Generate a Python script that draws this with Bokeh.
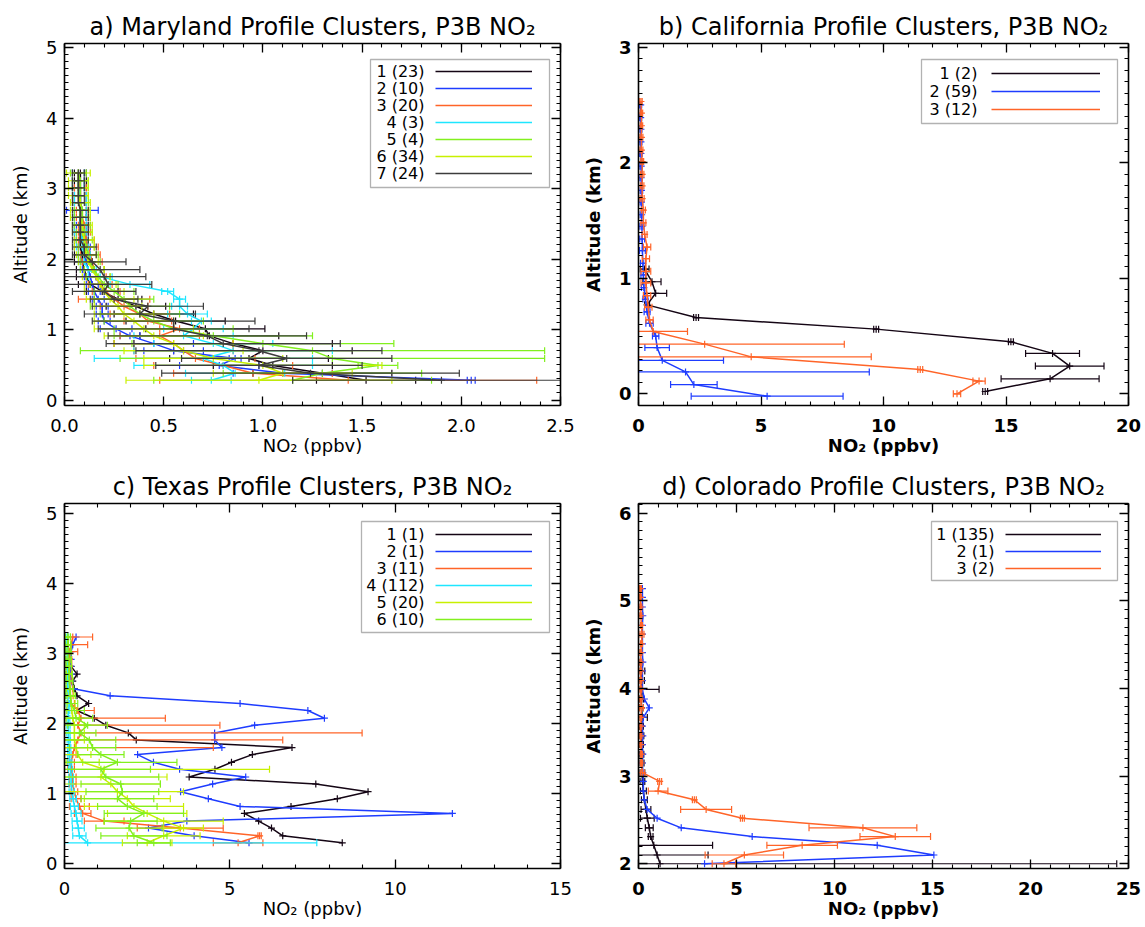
import numpy as np
from bokeh.plotting import figure
from bokeh.models import (Range1d, LinearAxis, SingleIntervalTicker, Legend, LegendItem,
                          Label, BoxAnnotation, ColumnDataSource, PrintfTickFormatter)
from bokeh.layouts import gridplot
from bokeh.embed import file_html
from bokeh.resources import INLINE

FONT = "DejaVu Sans"

C_BLACK = "#140514"
C_BLUE = "#1e3cff"
C_ORANGE = "#ff6428"
C_CYAN = "#1ee6ff"
C_GREEN = "#82f01e"
C_YGREEN = "#c8f000"
C_GRAY = "#3c3c3c"

# ---------------- a) Maryland ----------------
ALT_A = [0.28, 0.38, 0.49, 0.59, 0.70, 0.80, 0.91, 1.01, 1.12, 1.22, 1.33, 1.43, 1.54, 1.64, 1.75,
         1.85, 1.96, 2.06, 2.17, 2.27, 2.38, 2.48, 2.59, 2.69, 2.80, 2.90, 3.01, 3.11, 3.22]
A1_MEAN = [1.52, 1.30, 1.05, 0.93, 1.00, 0.85, 0.73, 0.71, 0.56, 0.45, 0.36, 0.27, 0.19, 0.13, 0.11,
           0.10, 0.09, 0.09, 0.08, 0.08, 0.08, 0.08, 0.08, 0.08, 0.08, 0.08, 0.08, 0.08, 0.08]
A1_SD = [0.25, 0.35, 0.30, 0.40, 0.45, 0.50, 0.35, 0.30, 0.25, 0.20, 0.15, 0.12, 0.08, 0.06, 0.05,
         0.04, 0.04, 0.04, 0.03, 0.03, 0.03, 0.03, 0.03, 0.03, 0.03, 0.03, 0.03, 0.03, 0.03]
A2_MEAN = [2.05, 1.10, 0.78, 0.86, 0.55, 0.45, 0.33, 0.26, 0.20, 0.19, 0.19, 0.17, 0.15, 0.14, 0.13,
           0.12, 0.11, 0.10, 0.10, 0.09, 0.09, 0.09, 0.08, 0.09, 0.08, 0.08, 0.07, 0.07, 0.07]
A2_SD = [0.02, 0.25, 0.20, 0.03, 0.15, 0.20, 0.05, 0.08, 0.03, 0.03, 0.03, 0.03, 0.03, 0.03, 0.03,
         0.03, 0.03, 0.03, 0.03, 0.03, 0.03, 0.03, 0.03, 0.08, 0.03, 0.03, 0.03, 0.03, 0.03]
A3_MEAN = [1.43, 0.95, 0.80, 0.66, 0.60, 0.55, 0.48, 0.58, 0.42, 0.38, 0.30, 0.25, 0.21, 0.18, 0.16,
           0.15, 0.14, 0.13, 0.12, 0.11, 0.10, 0.10, 0.09, 0.09, 0.08, 0.08, 0.08, 0.07, 0.07]
A3_SD = [0.95, 0.40, 0.35, 0.30, 0.25, 0.30, 0.20, 0.10, 0.12, 0.15, 0.12, 0.18, 0.07, 0.06, 0.05,
         0.05, 0.05, 0.05, 0.05, 0.04, 0.03, 0.03, 0.03, 0.03, 0.03, 0.03, 0.03, 0.03, 0.03]
A4_MEAN = [0.74, 0.86, 0.80, 0.70, 0.85, 0.75, 0.60, 0.65, 0.69, 0.62, 0.58, 0.58, 0.52, 0.33, 0.18,
           0.12, 0.10, 0.10, 0.09, 0.09, 0.08, 0.08, 0.08, 0.08, 0.08, 0.08, 0.07, 0.07, 0.07]
A4_SD = [0.10, 0.25, 0.45, 0.55, 0.50, 0.30, 0.25, 0.15, 0.05, 0.10, 0.04, 0.03, 0.03, 0.10, 0.06,
         0.04, 0.03, 0.03, 0.03, 0.03, 0.03, 0.03, 0.03, 0.03, 0.03, 0.03, 0.03, 0.03, 0.03]
A5_MEAN = [1.15, 1.30, 1.58, 1.35, 1.25, 1.00, 0.75, 0.55, 0.45, 0.38, 0.33, 0.30, 0.25, 0.20, 0.17,
           0.15, 0.13, 0.12, 0.11, 0.10, 0.10, 0.09, 0.09, 0.09, 0.08, 0.08, 0.08, 0.08, 0.07]
A5_SD = [0.70, 0.50, 0.10, 1.07, 1.17, 0.66, 0.50, 0.30, 0.25, 0.20, 0.20, 0.15, 0.10, 0.07, 0.06,
         0.05, 0.05, 0.05, 0.04, 0.04, 0.04, 0.04, 0.04, 0.04, 0.04, 0.04, 0.04, 0.04, 0.04]
A6_MEAN = [0.98, 1.10, 1.00, 0.75, 0.60, 0.55, 0.45, 0.40, 0.35, 0.30, 0.27, 0.23, 0.20, 0.18, 0.16,
           0.14, 0.12, 0.11, 0.10, 0.10, 0.09, 0.09, 0.08, 0.08, 0.08, 0.07, 0.07, 0.07, 0.07]
A6_SD = [0.67, 0.35, 0.60, 0.35, 0.30, 0.30, 0.25, 0.25, 0.20, 0.15, 0.12, 0.12, 0.10, 0.08, 0.07,
         0.06, 0.05, 0.05, 0.05, 0.05, 0.05, 0.05, 0.05, 0.05, 0.05, 0.05, 0.05, 0.05, 0.06]
A7_MEAN = [1.90, 1.24, 0.98, 1.12, 0.98, 0.80, 0.72, 0.55, 0.55, 0.38, 0.42, 0.25, 0.20, 0.22, 0.20,
           0.18, 0.14, 0.10, 0.10, 0.08, 0.08, 0.08, 0.08, 0.08, 0.07, 0.07, 0.07, 0.07, 0.07]
A7_SD = [0.75, 0.75, 0.52, 0.53, 0.62, 0.59, 0.50, 0.38, 0.41, 0.28, 0.28, 0.12, 0.16, 0.22, 0.21,
         0.20, 0.17, 0.06, 0.06, 0.04, 0.04, 0.04, 0.04, 0.04, 0.03, 0.03, 0.03, 0.03, 0.03]
LEG_A = ["1 (23)", "2 (10)", "3 (20)", "4 (3)", "5 (4)", "6 (34)", "7 (24)"]

# ---------------- b) California ----------------
B1_ALT = [0.02, 0.13, 0.24, 0.35, 0.45, 0.56, 0.66, 0.77, 0.87, 0.97, 1.08]
B1_MEAN = [14.15, 16.80, 17.60, 16.90, 15.20, 9.70, 2.35, 0.35, 0.70, 0.55, 0.25]
B1_SD = [0.10, 2.00, 1.40, 1.10, 0.10, 0.10, 0.10, 0.10, 0.45, 0.37, 0.18]
B2_ALT = [-0.02, 0.08, 0.19, 0.29, 0.40, 0.50, 0.61, 0.71, 0.82, 0.92, 1.03, 1.13, 1.24, 1.34, 1.45,
          1.55, 1.66, 1.76, 1.87, 1.97, 2.08, 2.18, 2.29, 2.39, 2.50]
B2_MEAN = [5.25, 2.26, 1.92, 0.97, 0.76, 0.70, 0.45, 0.35, 0.28, 0.22, 0.20, 0.18, 0.16, 0.15, 0.14,
           0.13, 0.12, 0.12, 0.11, 0.11, 0.10, 0.10, 0.10, 0.09, 0.09]
B2_SD = [3.10, 0.95, 7.50, 2.50, 0.50, 0.13, 0.15, 0.12, 0.10, 0.10, 0.10, 0.10, 0.12, 0.10, 0.08,
         0.06, 0.05, 0.05, 0.05, 0.05, 0.05, 0.04, 0.04, 0.04, 0.04]
B3_ALT = [0.00, 0.11, 0.21, 0.32, 0.43, 0.54, 0.64, 0.75, 0.85, 0.96, 1.06, 1.17, 1.27, 1.38, 1.48,
          1.59, 1.69, 1.80, 1.90, 2.01, 2.11, 2.22, 2.32, 2.43, 2.53]
B3_MEAN = [13.00, 13.90, 11.50, 4.60, 2.70, 0.60, 0.45, 0.40, 0.35, 0.30, 0.30, 0.30, 0.35, 0.25, 0.20,
           0.20, 0.15, 0.15, 0.15, 0.15, 0.12, 0.12, 0.12, 0.12, 0.10]
B3_SD = [0.15, 0.25, 0.10, 4.90, 5.70, 1.40, 0.15, 0.15, 0.15, 0.20, 0.20, 0.15, 0.15, 0.10, 0.10,
         0.08, 0.08, 0.07, 0.07, 0.06, 0.06, 0.06, 0.05, 0.05, 0.05]
LEG_B = ["1 (2)", "2 (59)", "3 (12)"]

# ---------------- c) Texas ----------------
ALT_C = [0.30, 0.40, 0.51, 0.61, 0.72, 0.82, 0.93, 1.03, 1.14, 1.24, 1.35, 1.45, 1.56, 1.66, 1.77,
         1.87, 1.98, 2.08, 2.19, 2.29, 2.40, 2.50, 2.61, 2.71, 2.82, 2.92, 3.03, 3.13, 3.24]
C1_MEAN = [8.40, 6.60, 6.26, 5.87, 5.44, 6.85, 8.25, 9.18, 7.60, 3.77, 4.55, 5.05, 5.68, 6.88, 2.17,
           1.93, 1.25, 0.90, 0.37, 0.73, 0.38, 0.30, 0.25, 0.38, 0.20, 0.15, 0.12, 0.10, 0.10]
C2_MEAN = [5.58, 3.92, 2.54, 3.70, 11.73, 5.31, 4.35, 3.51, 4.48, 5.48, 3.48, 2.69, 2.21, 4.76, 4.54,
           4.54, 5.75, 7.86, 7.36, 5.31, 1.38, 0.27, 0.20, 0.20, 0.18, 0.20, 0.20, 0.25, 0.35]
C3_MEAN = [5.25, 5.90, 3.50, 1.20, 0.55, 0.45, 0.35, 0.30, 0.25, 0.25, 0.20, 0.20, 0.25, 0.30, 0.40,
           0.50, 0.40, 0.50, 0.40, 0.20, 0.18, 0.16, 0.15, 0.15, 0.15, 0.15, 0.15, 0.20, 0.25]
C3_SD = [0.75, 0.05, 1.30, 0.60, 0.25, 0.30, 0.15, 0.10, 0.10, 0.10, 0.10, 0.10, 0.10, 4.20, 6.20,
         8.50, 4.30, 2.55, 0.50, 0.10, 0.08, 0.08, 0.07, 0.07, 0.07, 0.07, 0.25, 0.50, 0.60]
C4_MEAN = [0.70, 0.45, 0.42, 0.38, 0.35, 0.30, 0.26, 0.22, 0.20, 0.20, 0.18, 0.16, 0.15, 0.14, 0.13,
           0.12, 0.12, 0.11, 0.11, 0.10, 0.10, 0.10, 0.09, 0.09, 0.09, 0.08, 0.08, 0.08, 0.08]
C4_SD = [6.93, 0.20, 0.18, 0.15, 0.15, 0.12, 0.10, 0.08, 0.07, 0.07, 0.06, 0.06, 0.05, 0.05, 0.05,
         0.05, 0.05, 0.05, 0.05, 0.05, 0.04, 0.04, 0.04, 0.04, 0.04, 0.04, 0.04, 0.04, 0.04]
C5_MEAN = [2.50, 3.00, 3.60, 3.00, 2.50, 2.10, 1.90, 1.60, 1.40, 1.10, 1.20, 0.55, 0.40, 0.35, 0.30,
           0.30, 0.30, 0.25, 0.22, 0.20, 0.18, 0.16, 0.15, 0.14, 0.13, 0.12, 0.12, 0.11, 0.10]
C5_SD = [0.75, 1.10, 0.60, 1.80, 1.20, 1.50, 1.30, 2.00, 1.50, 2.00, 5.00, 0.50, 0.40, 0.35, 0.30,
         0.30, 0.30, 0.20, 0.15, 0.12, 0.10, 0.10, 0.10, 0.08, 0.08, 0.08, 0.08, 0.08, 0.08]
C6_MEAN = [2.70, 2.10, 1.95, 2.00, 2.40, 1.90, 1.60, 1.75, 1.70, 1.25, 1.10, 1.60, 1.10, 0.85, 0.75,
           0.45, 0.70, 0.35, 0.30, 0.20, 0.18, 0.16, 0.15, 0.14, 0.13, 0.12, 0.12, 0.11, 0.10]
C6_SD = [0.50, 1.00, 1.00, 0.80, 1.20, 0.90, 1.10, 1.10, 1.20, 1.60, 1.50, 1.80, 0.70, 0.70, 0.80,
         0.50, 0.60, 0.50, 0.30, 0.20, 0.15, 0.12, 0.10, 0.10, 0.08, 0.08, 0.08, 0.08, 0.08]
LEG_C = ["1 (1)", "2 (1)", "3 (11)", "4 (112)", "5 (20)", "6 (10)"]

# ---------------- d) Colorado ----------------
D1_ALT = [2.00, 2.10, 2.21, 2.31, 2.41, 2.52, 2.62, 2.73, 2.83, 2.94, 3.04, 3.15, 3.25, 3.36, 3.46,
          3.57, 3.67, 3.78, 3.88, 3.99, 4.09, 4.20, 4.30]
D1_MEAN = [1.10, 0.95, 0.78, 0.62, 0.55, 0.45, 0.38, 0.30, 0.25, 0.20, 0.20, 0.18, 0.17, 0.15, 0.15,
           0.15, 0.20, 0.15, 0.15, 0.20, 0.15, 0.12, 0.10]
D1_SD = [23.30, 2.60, 3.00, 0.12, 0.20, 0.35, 0.25, 0.15, 0.15, 0.12, 0.12, 0.10, 0.10, 0.10, 0.12,
         0.10, 0.25, 0.10, 0.10, 0.85, 0.15, 0.20, 0.10]
ALT_D = [2.00, 2.10, 2.21, 2.31, 2.41, 2.52, 2.62, 2.73, 2.83, 2.94, 3.04, 3.15, 3.25, 3.36, 3.46,
         3.57, 3.67, 3.78, 3.88, 3.99, 4.09, 4.20, 4.30, 4.41, 4.51, 4.62, 4.72, 4.83, 4.93, 5.04, 5.14]
D2_MEAN = [3.37, 15.07, 12.18, 5.80, 2.18, 0.95, 0.44, 0.30, 0.25, 0.25, 0.22, 0.20, 0.22, 0.20, 0.22,
           0.20, 0.25, 0.55, 0.30, 0.20, 0.20, 0.20, 0.22, 0.20, 0.20, 0.20, 0.20, 0.22, 0.20, 0.20, 0.20]
D3_MEAN = [4.36, 5.40, 8.35, 13.10, 11.45, 5.30, 3.45, 2.85, 1.00, 1.08, 0.20, 0.15, 0.15, 0.12, 0.12,
           0.12, 0.12, 0.15, 0.12, 0.12, 0.12, 0.12, 0.12, 0.12, 0.15, 0.18, 0.15, 0.12, 0.12, 0.10, 0.10]
D3_SD = [0.60, 2.00, 1.80, 1.80, 2.75, 0.10, 1.30, 0.10, 0.50, 0.10, 0.10, 0.05, 0.05, 0.05, 0.05,
         0.05, 0.05, 0.10, 0.05, 0.05, 0.05, 0.05, 0.05, 0.05, 0.05, 0.10, 0.05, 0.05, 0.05, 0.05, 0.05]
LEG_D = ["1 (135)", "2 (1)", "3 (2)"]


def style_axis(ax, ticker, show, bold, label=None, standoff=8, lab_standoff=5, fmt=None):
    ax.ticker = ticker
    ax.axis_line_width = 1.6
    ax.axis_line_color = "black"
    ax.major_tick_line_width = 1.3
    ax.minor_tick_line_width = 1.1
    ax.major_tick_line_color = "black"
    ax.minor_tick_line_color = "black"
    ax.major_tick_in = 9
    ax.major_tick_out = 0
    ax.minor_tick_in = 4
    ax.minor_tick_out = 0
    if fmt is not None:
        ax.formatter = fmt
    if show:
        ax.major_label_text_font = FONT
        ax.major_label_text_font_size = "18px"
        ax.major_label_text_font_style = "bold" if bold else "normal"
        ax.major_label_text_color = "black"
        ax.major_label_standoff = standoff
        ax.axis_label = label
        ax.axis_label_text_font = FONT
        ax.axis_label_text_font_size = "18px"
        ax.axis_label_text_font_style = "bold" if bold else "normal"
        ax.axis_label_text_color = "black"
        ax.axis_label_standoff = lab_standoff
    else:
        # tick-only box side: no labels drawn
        ax.major_label_text_color = None
        ax.major_label_text_alpha = 0
        ax.major_label_text_font_size = "1px"
        ax.major_label_standoff = 0


def make_panel(title, xr, yr, xint, frame_w, frame_h, borders, bold, clusters,
               labels, frame_left, frame_bottom, box, rows, line_x, label_right, xfmt=None):
    bl, bt, br, bb = borders
    p = figure(frame_width=frame_w, frame_height=frame_h,
               x_range=Range1d(*xr), y_range=Range1d(*yr),
               min_border_left=bl, min_border_top=bt, min_border_right=br, min_border_bottom=bb,
               output_backend="svg", toolbar_location=None, title=title)
    p.title.text_font = FONT
    p.title.text_font_size = "24px"
    p.title.text_font_style = "normal"
    p.title.text_color = "black"
    p.title.align = "center"
    p.title.standoff = 5
    p.xgrid.visible = False
    p.ygrid.visible = False
    p.outline_line_color = None
    p.background_fill_color = "white"
    p.border_fill_color = "white"

    xt = SingleIntervalTicker(interval=xint, num_minor_ticks=5)
    yt = SingleIntervalTicker(interval=1, num_minor_ticks=10)
    style_axis(p.below[0], xt, True, bold, "NO\u2082 (ppbv)", standoff=13, lab_standoff=0, fmt=xfmt)
    style_axis(p.left[0], yt, True, bold, "Altitude (km)", standoff=7, lab_standoff=12)
    top = LinearAxis()
    right = LinearAxis()
    style_axis(top, xt, False, bold)
    style_axis(right, yt, False, bold)
    p.add_layout(top, "above")
    p.add_layout(right, "right")

    renderers = []
    for alt, mean, sd, color in clusters:
        alt = np.asarray(alt, dtype=float)
        mean = np.asarray(mean, dtype=float)
        data = dict(alt=alt, mean=mean)
        if sd is not None:
            sd = np.asarray(sd, dtype=float)
            data["lo"] = mean - sd
            data["hi"] = mean + sd
        src = ColumnDataSource(data)
        if sd is not None:
            p.segment(x0="lo", y0="alt", x1="hi", y1="alt", source=src,
                      line_color=color, line_width=1.2)
            p.scatter(x="lo", y="alt", source=src, marker="dash", angle=np.pi / 2, size=7,
                      line_color=color, line_width=1.2)
            p.scatter(x="hi", y="alt", source=src, marker="dash", angle=np.pi / 2, size=7,
                      line_color=color, line_width=1.2)
        r = p.line(x="mean", y="alt", source=src, line_color=color, line_width=1.5)
        p.scatter(x="mean", y="alt", source=src, marker="cross", size=7,
                  line_color=color, line_width=1.2)
        renderers.append(r)

    # legend: framed box, labels at left, line samples at right (page pixel geometry)
    b_l, b_r, b_t, b_b = box
    p.add_layout(BoxAnnotation(left=b_l - frame_left, right=b_r - frame_left,
                               top=frame_bottom - b_t, bottom=frame_bottom - b_b,
                               left_units="screen", right_units="screen",
                               top_units="screen", bottom_units="screen",
                               fill_color=None, fill_alpha=0, line_color="black",
                               line_width=1.3, level="overlay"))
    gh = 14
    pitch = rows[1] - rows[0]
    sp = pitch - gh
    n = len(labels)
    top_y = rows[0] - gh / 2
    height = n * gh + (n - 1) * sp
    leg = Legend(items=[LegendItem(label=" ", renderers=[r]) for r in renderers],
                 location=(line_x[0] - frame_left, frame_bottom - (top_y + height)),
                 glyph_width=int(line_x[1] - line_x[0]), glyph_height=gh, label_height=gh,
                 spacing=sp, padding=0, margin=0, border_line_alpha=0,
                 background_fill_alpha=0, label_text_font_size="8px",
                 label_standoff=0, label_width=0)
    p.add_layout(leg)
    for lab, yrow in zip(labels, rows):
        p.add_layout(Label(x=label_right - frame_left, y=frame_bottom - yrow,
                           x_units="screen", y_units="screen", text=lab,
                           text_align="right", text_baseline="middle",
                           text_font=FONT, text_font_size="16px", text_color="black"))
    return p


pa = make_panel("a) Maryland Profile Clusters, P3B NO\u2082", (0, 2.5), (-0.078, 5.057), 0.5,
                496, 362, (64, 43, 15, 55), False,
                [(ALT_A, A1_MEAN, A1_SD, C_BLACK), (ALT_A, A2_MEAN, A2_SD, C_BLUE),
                 (ALT_A, A3_MEAN, A3_SD, C_ORANGE), (ALT_A, A4_MEAN, A4_SD, C_CYAN),
                 (ALT_A, A5_MEAN, A5_SD, C_GREEN), (ALT_A, A6_MEAN, A6_SD, C_YGREEN),
                 (ALT_A, A7_MEAN, A7_SD, C_GRAY)],
                LEG_A, 64, 405, (370, 549, 59, 187), [71, 88, 105, 122, 139, 156, 173],
                (435, 532), 424, xfmt=PrintfTickFormatter(format="%.1f"))

pb = make_panel("b) California Profile Clusters, P3B NO\u2082", (0, 20), (-0.101, 3.032), 5,
                490, 362, (63, 43, 13, 55), True,
                [(B1_ALT, B1_MEAN, B1_SD, C_BLACK), (B2_ALT, B2_MEAN, B2_SD, C_BLUE),
                 (B3_ALT, B3_MEAN, B3_SD, C_ORANGE)],
                LEG_B, 638, 405, (921, 1117, 59, 123), [73, 91, 109],
                (991, 1100), 977)

pc = make_panel("c) Texas Profile Clusters, P3B NO\u2082", (0, 15), (-0.067, 5.147), 5,
                496, 365, (64, 43, 15, 55), False,
                [(ALT_C, C1_MEAN, None, C_BLACK), (ALT_C, C2_MEAN, None, C_BLUE),
                 (ALT_C, C3_MEAN, C3_SD, C_ORANGE), (ALT_C, C4_MEAN, C4_SD, C_CYAN),
                 (ALT_C, C5_MEAN, C5_SD, C_YGREEN), (ALT_C, C6_MEAN, C6_SD, C_GREEN)],
                LEG_C, 64, 868, (361, 549, 521, 632), [534, 551, 568, 585, 602, 619],
                (435, 532), 424)

pd_ = make_panel("d) Colorado Profile Clusters, P3B NO\u2082", (0, 25), (1.946, 6.111), 5,
                 490, 365, (63, 43, 13, 55), True,
                 [(D1_ALT, D1_MEAN, D1_SD, C_BLACK), (ALT_D, D2_MEAN, None, C_BLUE),
                  (ALT_D, D3_MEAN, D3_SD, C_ORANGE)],
                 LEG_D, 638, 868, (931, 1117, 521, 580), [534, 551, 568],
                 (1005, 1101), 994)

grid = gridplot([[pa, pb], [pc, pd_]], toolbar_location=None)
open("out.html", "w").write(file_html(grid, INLINE))
